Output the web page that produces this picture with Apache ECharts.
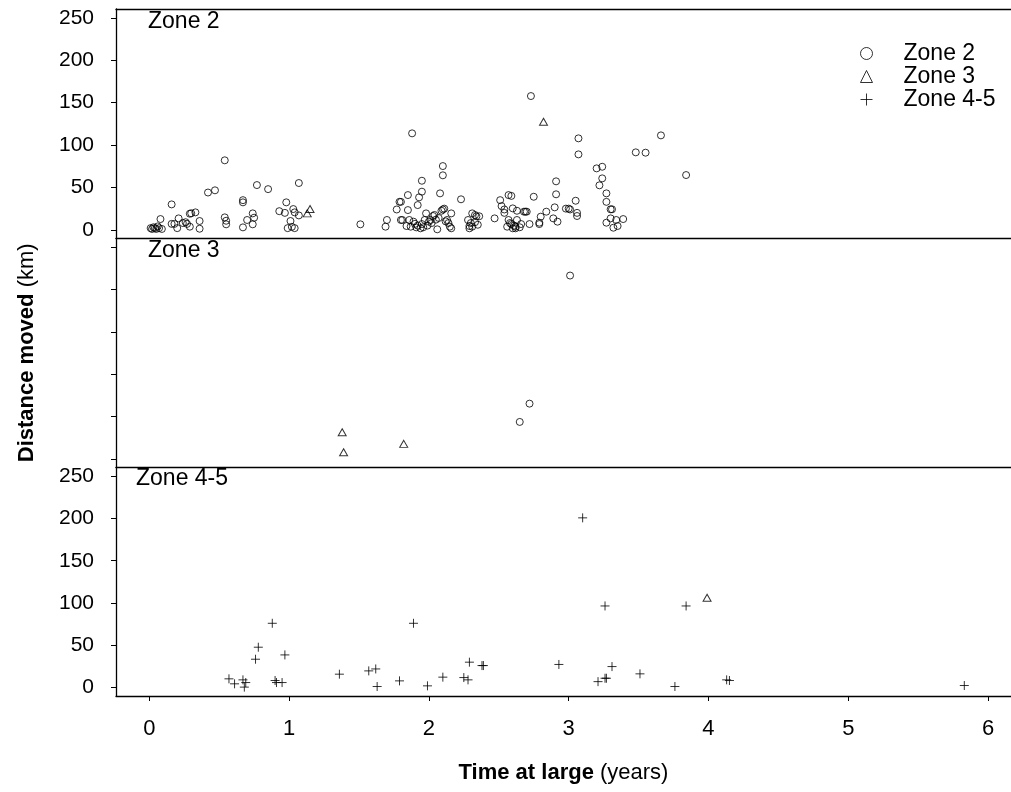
<!doctype html>
<html>
<head>
    <meta charset="utf-8">
    <title>Distance moved vs time at large</title>
    <style>
        html, body { margin: 0; padding: 0; background: #fff; }
        #chart { width: 1011px; height: 792px; }
    </style>
</head>
<body>
    <div id="chart"></div>
    <script src="https://cdn.jsdelivr.net/npm/echarts@6/dist/echarts.min.js"></script>
    <script>
        // [years, km]
        var zone2Circles = [
            [0.01, 2], [0.02, 1], [0.03, 3], [0.04, 2], [0.05, 1], [0.06, 4], [0.07, 2], [0.09, 1],
            [0.08, 12.7], [0.16, 30], [0.16, 7], [0.18, 7], [0.2, 2], [0.21, 13.5], [0.24, 8], [0.26, 9],
            [0.27, 7], [0.29, 19], [0.30, 19.5], [0.33, 20.6], [0.29, 3.7], [0.36, 10.4], [0.36, 1.3],
            [0.42, 44], [0.47, 46.6], [0.54, 82], [0.54, 14.7], [0.55, 10.7], [0.55, 6.5], [0.67, 35],
            [0.67, 32.4], [0.67, 2.9], [0.70, 11.6], [0.74, 19.4], [0.75, 14.3], [0.74, 6.5], [0.77, 52.8],
            [0.85, 48], [0.93, 22], [0.97, 20], [0.98, 32.4], [1.01, 10.4], [0.99, 2], [1.02, 3.5], [1.04, 2],
            [1.03, 24.5], [1.04, 20.6], [1.07, 17], [1.07, 55.2], [1.51, 6.5], [1.69, 3.7], [1.70, 11.6],
            [1.77, 24], [1.79, 33], [1.80, 33], [1.80, 11.6], [1.84, 4.5], [1.85, 41], [1.85, 23.3],
            [1.88, 113.8], [1.87, 3.7], [1.89, 9.6], [1.91, 2.9], [1.92, 29.2], [1.93, 38.3], [1.95, 57.9],
            [1.95, 45], [1.94, 1.8], [1.95, 6.8], [1.97, 11.6], [1.98, 19.4], [2.0, 9.6], [2.01, 11.6],
            [2.03, 16.3], [2.04, 17.5], [2.06, 0.6], [2.08, 43], [2.09, 22.5], [2.10, 24], [2.10, 75.2],
            [2.10, 64.3], [2.13, 11.6], [2.14, 8], [2.15, 3.7], [2.16, 1.8], [2.16, 19.4], [2.23, 36],
            [2.28, 11.6], [2.29, 4.5], [2.31, 19.4], [2.31, 3.7], [2.33, 17.5], [2.34, 16], [2.36, 16],
            [2.29, 1.8], [2.47, 13.5], [2.51, 35], [2.52, 28], [2.54, 24], [2.54, 20], [2.57, 41], [2.59, 40],
            [2.57, 11.6], [2.56, 3.7], [2.59, 6.8], [2.60, 1.8], [2.62, 3.7], [2.63, 11.6], [2.62, 1.8],
            [2.60, 25.3], [2.63, 22.5], [2.66, 6.8], [2.68, 21.4], [2.69, 21.4], [2.70, 21.4], [2.72, 6.8],
            [2.73, 157.8], [2.75, 39], [2.79, 8.4], [2.80, 15.5], [2.79, 6.8], [2.84, 21.4], [2.89, 13.5],
            [2.90, 26.5], [2.91, 41.9], [2.91, 57.2], [2.92, 9.6], [2.98, 25], [3.00, 25], [3.01, 24],
            [3.05, 34.3], [3.06, 20], [3.06, 16.3], [3.07, 107.9], [3.07, 89], [3.20, 72.5], [3.24, 74.4],
            [3.24, 60.7], [3.22, 52.5], [3.27, 43], [3.27, 33], [3.30, 24.2], [3.31, 24.2], [3.27, 8.4],
            [3.30, 13.5], [3.32, 2.5], [3.34, 11.6], [3.35, 4.5], [3.39, 12.7], [3.48, 91.4], [3.55, 91],
            [3.66, 111.4], [3.84, 64.6],
            [1.81, 11.6], [1.86, 11.6], [1.90, 7], [1.92, 5], [1.96, 3], [1.99, 5], [2.02, 8], [2.05, 12],
            [2.07, 14], [2.11, 25], [2.12, 10], [2.33, 9], [2.35, 6], [2.30, 8], [2.58, 8], [2.61, 5], [2.65, 3]
        ];
        var zone2Triangles = [[1.15, 24.5], [1.13, 19.4], [2.82, 127.5]];

        var zone3Circles = [[3.01, 216.5], [2.72, 65.2], [2.65, 43.6]];
        var zone3Triangles = [[1.38, 31.4], [1.39, 7.8], [1.82, 17.7]];

        var zone45Pluses = [
            [0.57, 10.3], [0.61, 4.4], [0.67, 9.1], [0.69, 5.9], [0.68, 0.5], [0.76, 33.5], [0.78, 47.7],
            [0.88, 76], [0.90, 8.3], [0.91, 5.9], [0.95, 5.9], [0.97, 38.6], [1.36, 15.8], [1.57, 19.7],
            [1.62, 22], [1.63, 1.2], [1.79, 7.9], [1.89, 76], [1.99, 2], [2.10, 12.3], [2.25, 11.8],
            [2.28, 9.1], [2.29, 30], [2.38, 26], [2.39, 26], [2.93, 27.3], [3.10, 200.7], [3.21, 7],
            [3.26, 11], [3.27, 11], [3.26, 96.5], [3.31, 24.8], [3.51, 16.2], [3.76, 1.2], [3.84, 96.5],
            [4.13, 9.1], [4.15, 8.3], [5.83, 2.4]
        ];
        var zone45Triangles = [[3.99, 106.3]];

        var xTicks = [0, 1, 2, 3, 4, 5, 6];
        var yTicks = [0, 50, 100, 150, 200, 250];
        var panelNames = ['Zone 2', 'Zone 3', 'Zone 4-5'];

        var font = "'Liberation Sans', Arial, Helvetica, sans-serif";
        var plusPath = 'path://M0,5L10,5M5,0L5,10';
        var hollow = { color: 'transparent', borderColor: '#000', borderWidth: 1 };
        var frameLine = { color: '#000', width: 1.3 };

        // three stacked panels sharing the time axis; no right border in the original
        var grids = [
            { left: 116, right: 0, top: 9, height: 229.3 },
            { left: 116, right: 0, top: 238.3, height: 229 },
            { left: 116, right: 0, top: 467.3, height: 228.7 }
        ];

        var xAxes = [0, 1, 2].map(function (i) {
            return {
                gridIndex: i,
                type: 'value',
                min: -0.238,
                max: 6.164,
                axisLine: { show: true, onZero: false, lineStyle: frameLine },
                splitLine: { show: false },
                axisTick: {
                    show: i === 2, length: 5, customValues: xTicks,
                    lineStyle: { color: '#000', width: 1 }
                },
                axisLabel: {
                    show: i === 2, customValues: xTicks, margin: 22,
                    fontSize: 22, color: '#000', fontFamily: font
                }
            };
        });
        xAxes[2].name = '{b|Time at large} (years)';
        xAxes[2].nameLocation = 'middle';
        xAxes[2].nameGap = 66;
        xAxes[2].nameTextStyle = {
            fontSize: 22, color: '#000', fontFamily: font,
            rich: { b: { fontSize: 22, fontWeight: 'bold', color: '#000', fontFamily: font } }
        };
        // top border of the first panel
        xAxes.push({
            gridIndex: 0, type: 'value', position: 'top', min: -0.238, max: 6.164,
            axisLine: { show: true, onZero: false, lineStyle: frameLine },
            axisTick: { show: false }, axisLabel: { show: false }, splitLine: { show: false }
        });

        var yAxes = [0, 1, 2].map(function (i) {
            return {
                gridIndex: i,
                type: 'value',
                min: -10,
                max: 260.5,
                axisLine: { show: true, onZero: false, lineStyle: frameLine },
                splitLine: { show: false },
                axisTick: {
                    show: true, length: 5, customValues: yTicks,
                    lineStyle: { color: '#000', width: 1 }
                },
                axisLabel: {
                    show: i !== 1, customValues: yTicks, margin: 22,
                    fontSize: 21, color: '#000', fontFamily: font
                }
            };
        });
        yAxes[1].name = '{b|Distance moved} (km)';
        yAxes[1].nameLocation = 'middle';
        yAxes[1].nameRotate = 90;
        yAxes[1].nameGap = 78;
        yAxes[1].nameTextStyle = {
            fontSize: 22, color: '#000', fontFamily: font,
            rich: { b: { fontSize: 22, fontWeight: 'bold', color: '#000', fontFamily: font } }
        };

        function scatter(name, data, panel, symbol, size) {
            return {
                name: name,
                type: 'scatter',
                xAxisIndex: panel,
                yAxisIndex: panel,
                data: data,
                symbol: symbol,
                symbolSize: size,
                itemStyle: hollow,
                emphasis: { disabled: true },
                silent: true,
                animation: false
            };
        }

        var series = [
            scatter('Zone 2', zone2Circles, 0, 'circle', 7),
            scatter('Zone 3', zone2Triangles, 0, 'triangle', [8, 7]),
            scatter('Zone 2', zone3Circles, 1, 'circle', 7),
            scatter('Zone 3', zone3Triangles, 1, 'triangle', [8, 7]),
            scatter('Zone 4-5', zone45Pluses, 2, plusPath, 9),
            scatter('Zone 3', zone45Triangles, 2, 'triangle', [8, 7])
        ];

        var labelPos = [[148, 22], [148, 251], [136, 479]];
        var graphics = panelNames.map(function (name, i) {
            return {
                type: 'text',
                x: labelPos[i][0],
                y: labelPos[i][1],
                silent: true,
                style: {
                    text: name,
                    fill: '#000',
                    font: '23px ' + font,
                    verticalAlign: 'middle'
                }
            };
        });

        var chart = echarts.init(document.getElementById('chart'), null, { renderer: 'canvas' });
        chart.setOption({
            animation: false,
            backgroundColor: '#fff',
            grid: grids,
            xAxis: xAxes,
            yAxis: yAxes,
            legend: {
                orient: 'vertical',
                left: 855,
                top: 37,
                itemWidth: 12,
                itemHeight: 12,
                itemGap: 0,
                selectedMode: false,
                textStyle: { fontSize: 23, lineHeight: 23, color: '#000', fontFamily: font, padding: [0, 0, 0, 26] },
                data: [
                    { name: 'Zone 2', icon: 'circle', itemStyle: hollow },
                    { name: 'Zone 3', icon: 'triangle', itemStyle: hollow },
                    { name: 'Zone 4-5', icon: plusPath, itemStyle: hollow }
                ]
            },
            graphic: graphics,
            series: series
        });
    </script>
</body>
</html>
